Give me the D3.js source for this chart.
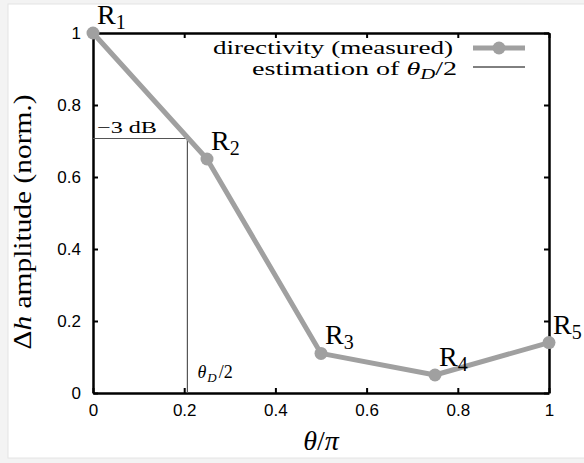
<!DOCTYPE html>
<html>
<head>
<meta charset="utf-8">
<script src="https://cdn.jsdelivr.net/npm/d3@7"></script>
<style>
  html, body { margin: 0; padding: 0; background: #f3f3f3; }
  svg { display: block; }
  .tick text { font-family: "Liberation Sans", Arial, sans-serif; font-size: 17px; fill: #000; }
  .serif { font-family: "Liberation Serif", "DejaVu Serif", serif; fill: #000; }
</style>
</head>
<body>
<div id="plot"></div>
<script>
// measured directivity (R1..R5)
var names = ["R1", "R2", "R3", "R4", "R5"];
var thetas = [0, 0.25, 0.5, 0.75, 1];
var amps = [1, 0.65, 0.11, 0.05, 0.14];
// -3 dB estimation
var minus3dB = 0.707;
var thetaHalf = 0.207;
var ticks = [0, 0.2, 0.4, 0.6, 0.8, 1];

var width = 584,
  height = 463;

var svg = d3.select("#plot").append("svg")
  .attr("width", width)
  .attr("height", height)

// white page with light frame
svg.append("rect")
  .attr("x", 8).attr("y", 4)
  .attr("width", 600).attr("height", 454)
  .attr("fill", "#fff")
  .attr("stroke", "#e4e4e4")

var xScale = d3.scaleLinear().domain([0, 1]).range([93, 549]);
var yScale = d3.scaleLinear().domain([0, 1]).range([393, 33]);

var fmt = function (d) { return d === 0 || d === 1 ? d3.format("d")(d) : d3.format(".1f")(d) }

svg.append("g")
  .attr("transform", "translate(0," + yScale(0) + ")")
  .call(d3.axisBottom(xScale).tickValues(ticks).tickFormat(fmt).tickSizeInner(-5).tickSizeOuter(0).tickPadding(11));
svg.append("g")
  .attr("transform", "translate(0," + yScale(1) + ")")
  .call(d3.axisTop(xScale).tickValues(ticks).tickFormat("").tickSizeInner(-5).tickSizeOuter(0));
svg.append("g")
  .attr("transform", "translate(" + xScale(0) + ",0)")
  .call(d3.axisLeft(yScale).tickValues(ticks).tickFormat(fmt).tickSizeInner(-5).tickSizeOuter(0).tickPadding(12));
svg.append("g")
  .attr("transform", "translate(" + xScale(1) + ",0)")
  .call(d3.axisRight(yScale).tickValues(ticks).tickFormat("").tickSizeInner(-5).tickSizeOuter(0));

svg.selectAll(".domain").attr("stroke", "#000").attr("stroke-width", 2.5);
svg.selectAll(".tick line").attr("stroke", "#000").attr("stroke-width", 2);

// -3 dB guide lines
svg.append("path")
  .attr("d", "M" + xScale(0) + " " + yScale(minus3dB) + " L" + xScale(thetaHalf) + " " + yScale(minus3dB) + " L" + xScale(thetaHalf) + " " + yScale(0))
  .attr("stroke", "#555")
  .attr("stroke-width", 1.2)
  .attr("fill", "none");

svg.append("text").attr("class", "serif")
  .attr("x", xScale(0) + 4).attr("y", yScale(minus3dB) - 5)
  .attr("textLength", 60)
  .attr("lengthAdjust", "spacingAndGlyphs")
  .style("font-size", "16px")
  .text("\u22123 dB");

var th = svg.append("text").attr("class", "serif")
  .attr("x", xScale(thetaHalf) + 10).attr("y", yScale(0) - 15)
  .style("font-size", "18px");
th.append("tspan").style("font-style", "italic").text("\u03b8");
th.append("tspan").style("font-style", "italic").style("font-size", "13px").attr("dy", 4).attr("dx", 1).text("D");
th.append("tspan").attr("dy", -4).attr("dx", 2).text("/2");

// measured curve
var data = thetas.map(function (t, i) { return { name: names[i], x: t, y: amps[i] } });

var line = d3.line().x(function (d) { return xScale(d.x) }).y(function (d) { return yScale(d.y) });
svg.append("path")
  .datum(data)
  .attr("d", line)
  .attr("stroke", "#a0a0a0")
  .attr("stroke-width", 5)
  .attr("stroke-linejoin", "round")
  .attr("fill", "none");

svg.selectAll("circle.pt")
  .data(data)
  .enter().append("circle")
  .attr("class", "pt")
  .attr("cx", function (d) { return xScale(d.x) })
  .attr("cy", function (d) { return yScale(d.y) })
  .attr("r", 6.5)
  .attr("fill", "#a0a0a0");

// point labels
var lbl = svg.selectAll("text.rl")
  .data(data)
  .enter().append("text")
  .attr("class", "rl serif")
  .attr("x", function (d) { return xScale(d.x) + 4 })
  .attr("y", function (d) { return yScale(d.y) - 9 })
  .style("font-size", "28px");
lbl.append("tspan").text("R");
lbl.append("tspan").attr("dy", 5).style("font-size", "20px").text(function (d) { return d.name.slice(1) });

// legend
var leg = svg.append("g");
leg.append("text").attr("class", "serif")
  .attr("x", 453).attr("y", 54)
  .attr("text-anchor", "end")
  .attr("textLength", 240)
  .attr("lengthAdjust", "spacingAndGlyphs")
  .style("font-size", "19px")
  .text("directivity (measured)");
var l2 = leg.append("text").attr("class", "serif")
  .attr("x", 457).attr("y", 75)
  .attr("text-anchor", "end")
  .attr("textLength", 205)
  .attr("lengthAdjust", "spacingAndGlyphs")
  .style("font-size", "19px");
l2.append("tspan").text("estimation of ");
l2.append("tspan").style("font-style", "italic").text("\u03b8");
l2.append("tspan").style("font-style", "italic").style("font-size", "14px").attr("dy", 4).text("D");
l2.append("tspan").attr("dy", -4).text("/2");

leg.append("line")
  .attr("x1", 473).attr("x2", 525).attr("y1", 48).attr("y2", 48)
  .attr("stroke", "#a0a0a0").attr("stroke-width", 5);
leg.append("circle").attr("cx", 499).attr("cy", 48).attr("r", 6.5).attr("fill", "#a0a0a0");
leg.append("line")
  .attr("x1", 473).attr("x2", 525).attr("y1", 67).attr("y2", 67)
  .attr("stroke", "#000").attr("stroke-width", 1);

// axis titles
var xt = svg.append("text").attr("class", "serif")
  .attr("x", 321).attr("y", 450)
  .attr("text-anchor", "middle")
  .style("font-size", "28px");
xt.append("tspan").style("font-style", "italic").text("\u03b8");
xt.append("tspan").text("/");
xt.append("tspan").style("font-style", "italic").text("\u03c0");

var yt = svg.append("text").attr("class", "serif")
  .attr("transform", "translate(31,222) rotate(-90)")
  .attr("text-anchor", "middle")
  .attr("textLength", 255)
  .attr("lengthAdjust", "spacingAndGlyphs")
  .style("font-size", "26px");
yt.append("tspan").text("\u0394");
yt.append("tspan").style("font-style", "italic").text("h");
yt.append("tspan").text(" amplitude (norm.)");
</script>
</body>
</html>
